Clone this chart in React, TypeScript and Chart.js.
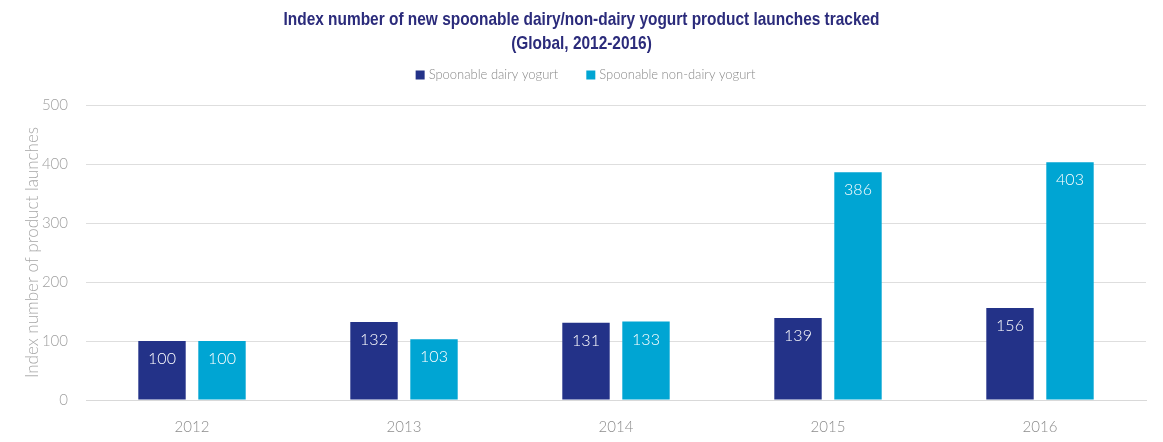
import React, { useEffect, useRef } from "react";
import { Chart, registerables } from "chart.js";

Chart.register(...registerables);

const years = ["2012", "2013", "2014", "2015", "2016"];
const dairyValues = [100, 132, 131, 139, 156];
const nonDairyValues = [100, 103, 133, 386, 403];
const seriesNames = ["Spoonable dairy yogurt", "Spoonable non-dairy yogurt"];
const titleLines = [
  "Index number of new spoonable dairy/non-dairy yogurt product launches tracked",
  "(Global, 2012-2016)",
];

const DARK = "#233288";
const CYAN = "#00a5d3";
const LIGHT_FONT = "Lato, 'Open Sans', sans-serif";

// white value labels drawn just inside the top of each bar
const barLabels = {
  id: "barLabels",
  afterDatasetsDraw(chart: any) {
    const { ctx } = chart;
    ctx.save();
    ctx.font = `300 16px ${LIGHT_FONT}`;
    ctx.fillStyle = "#ffffff";
    ctx.textAlign = "center";
    ctx.textBaseline = "middle";
    chart.data.datasets.forEach((ds: any, i: number) => {
      const meta = chart.getDatasetMeta(i);
      meta.data.forEach((bar: any, j: number) => {
        ctx.fillText(String(ds.data[j]), bar.x, bar.y + 18);
      });
    });
    ctx.restore();
  },
};

// condensed bold title + small square legend, drawn by hand (no narrow font installed)
const header = {
  id: "header",
  afterDraw(chart: any) {
    const { ctx, width } = chart;
    const cx = width / 2;
    ctx.save();
    ctx.font = "bold 19px 'Liberation Sans', sans-serif";
    ctx.fillStyle = "#2b2b7b";
    ctx.textBaseline = "middle";
    ctx.textAlign = "center";
    const sx = 596 / ctx.measureText(titleLines[0]).width;
    titleLines.forEach((line, i) => {
      ctx.save();
      ctx.translate(cx, 20 + i * 24);
      ctx.scale(sx, 1);
      ctx.fillText(line, 0, 0);
      ctx.restore();
    });

    ctx.font = `300 13px ${LIGHT_FONT}`;
    ctx.textAlign = "left";
    const box = 9;
    const gapText = 4;
    const gapItems = 28;
    const items = chart.data.datasets.map((ds: any) => ({
      text: ds.label,
      color: ds.backgroundColor,
      w: box + gapText + ctx.measureText(ds.label).width,
    }));
    const total = items.reduce((s: number, it: any) => s + it.w, 0) + gapItems * (items.length - 1);
    let x = cx - total / 2 + 4;
    const y = 75;
    items.forEach((it: any) => {
      ctx.fillStyle = it.color;
      ctx.fillRect(x, y - box / 2, box, box);
      ctx.fillStyle = "#8a8a8a";
      ctx.fillText(it.text, x + box + gapText, y);
      x += it.w + gapItems;
    });
    ctx.restore();
  },
};

export default function App() {
  const canvasRef = useRef<HTMLCanvasElement | null>(null);
  const chartRef = useRef<Chart | null>(null);

  useEffect(() => {
    document.body.style.margin = "0";
    if (!canvasRef.current) return;
    if (chartRef.current) chartRef.current.destroy();

    chartRef.current = new Chart(canvasRef.current, {
      type: "bar",
      data: {
        labels: years,
        datasets: [
          {
            label: seriesNames[0],
            data: dairyValues,
            backgroundColor: DARK,
            barPercentage: 0.79,
            categoryPercentage: 0.566,
          },
          {
            label: seriesNames[1],
            data: nonDairyValues,
            backgroundColor: CYAN,
            barPercentage: 0.79,
            categoryPercentage: 0.566,
          },
        ],
      },
      options: {
        responsive: true,
        maintainAspectRatio: false,
        animation: false,
        layout: { padding: { left: 0, right: 17, top: 105, bottom: 0 } },
        plugins: {
          title: { display: false },
          legend: { display: false },
          tooltip: { enabled: false },
        },
        scales: {
          x: {
            grid: { display: false },
            border: { color: "#d9d9d9" },
            ticks: {
              color: "#8c8c8c",
              font: { family: LIGHT_FONT, size: 15, weight: "300" },
              padding: 10,
            },
            afterFit(scale: any) {
              scale.height = 42;
            },
          },
          y: {
            min: 0,
            max: 500,
            ticks: {
              stepSize: 100,
              color: "#a0a0a0",
              font: { family: LIGHT_FONT, size: 15, weight: "300" },
              padding: 18,
            },
            grid: { color: "#dedede", drawTicks: false },
            border: { display: false },
            title: {
              display: true,
              text: "Index number of product launches",
              color: "#a6a6a6",
              font: { family: LIGHT_FONT, size: 17, weight: "300" },
              padding: { top: 22, bottom: 0 },
            },
            afterFit(scale: any) {
              scale.width = 86;
            },
          },
        },
      },
      plugins: [barLabels, header],
    });

    return () => {
      if (chartRef.current) chartRef.current.destroy();
    };
  }, []);

  return (
    <div style={{ width: "1163px", height: "442px", position: "relative" }}>
      <canvas ref={canvasRef}></canvas>
    </div>
  );
}
